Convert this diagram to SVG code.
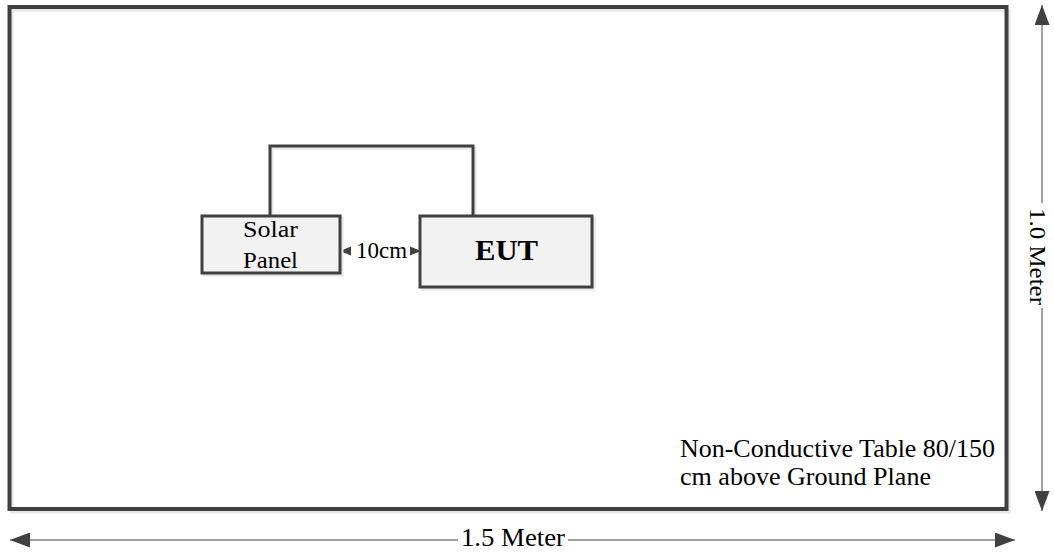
<svg xmlns="http://www.w3.org/2000/svg" width="1054" height="556" viewBox="0 0 1054 556">
<style>
.box{fill:#f2f2f2;stroke:#404040;stroke-width:3}
.sh{fill:none;stroke:#e6e6e6;stroke-width:3}
.t{font-family:"Liberation Serif","Times New Roman",serif;fill:#000}
.dim{stroke:#808080;stroke-width:1.5;fill:none}
.conn{stroke:#404040;stroke-width:3;fill:none}
</style>
<defs>
<marker id="big" viewBox="0 0 20 15" refX="20" refY="7.5" markerWidth="20" markerHeight="15" markerUnits="userSpaceOnUse" orient="auto-start-reverse">
<path d="M0,0 L20,7.5 L0,15 z" fill="#404040"/>
</marker>
</defs>
<rect width="1054" height="556" fill="#fff"/>
<g id="table">
<rect x="12" y="10" width="997" height="502" class="sh"/>
<rect x="9.5" y="7" width="997" height="502" fill="none" stroke="#404040" stroke-width="4"/>
<text class="t" x="680" y="457" font-size="25.5" textLength="315" lengthAdjust="spacingAndGlyphs">Non-Conductive Table 80/150</text>
<text class="t" x="680" y="485" font-size="25.5" textLength="251" lengthAdjust="spacingAndGlyphs">cm above Ground Plane</text>
</g>
<g id="connectors">
<polyline class="sh" points="272,218 272,148 475,148 475,218"/>
<polyline class="conn" points="270,216 270,146 473,146 473,216"/>
<path d="M351,246.5 L340,251 L351,255.5 z" fill="#404040"/>
<path d="M410,246.5 L421,251 L410,255.5 z" fill="#404040"/>
<line class="dim" x1="1042" y1="5" x2="1042" y2="511" marker-start="url(#big)" marker-end="url(#big)"/>
<line class="dim" x1="10" y1="540" x2="1015" y2="540" marker-start="url(#big)" marker-end="url(#big)"/>
</g>
<g id="solar">
<rect x="204" y="218" width="138" height="57" class="sh"/>
<rect class="box" x="202" y="216" width="138" height="57"/>
<text class="t" x="243" y="237" font-size="24" textLength="55" lengthAdjust="spacingAndGlyphs">Solar</text>
<text class="t" x="243" y="268" font-size="24" textLength="55" lengthAdjust="spacingAndGlyphs">Panel</text>
</g>
<g id="eut">
<rect x="422" y="218" width="172" height="71" class="sh"/>
<rect class="box" x="420" y="216" width="172" height="71"/>
<text class="t" x="475" y="260" font-size="30" font-weight="bold" textLength="63" lengthAdjust="spacingAndGlyphs">EUT</text>
</g>
<g id="labels">
<text class="t" x="356" y="258" font-size="23" textLength="51" lengthAdjust="spacingAndGlyphs">10cm</text>
<rect x="458" y="528" width="110" height="22" fill="#fff"/>
<text class="t" x="461" y="546" font-size="25" textLength="104" lengthAdjust="spacingAndGlyphs">1.5 Meter</text>
<rect x="1030" y="203" width="22" height="105" fill="#fff"/>
<text class="t" transform="translate(1030,208) rotate(90)" font-size="24" textLength="97" lengthAdjust="spacingAndGlyphs">1.0 Meter</text>
</g>
</svg>
